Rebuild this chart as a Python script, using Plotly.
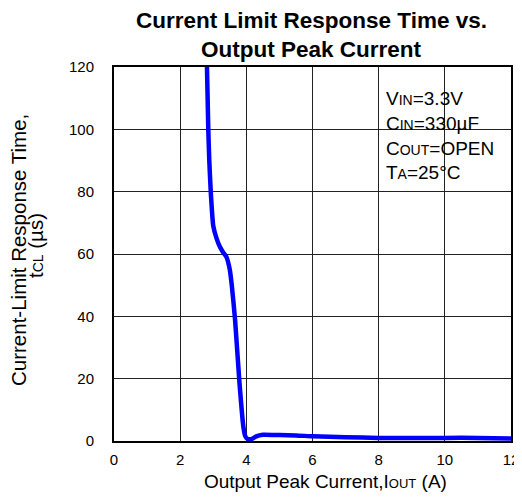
import plotly.graph_objects as go

# Data
iout = [2.81, 2.85, 2.88, 2.93, 3.0, 3.1, 3.2, 3.3, 3.4, 3.5, 3.56, 3.66, 3.79, 3.91, 3.97, 4.03, 4.15, 4.3, 4.5, 5.0, 5.5, 6.0, 7.0, 8.0, 9.0, 10.0, 11.0, 12.0]
tcl = [120, 100, 90, 79, 69, 65, 62.3, 60.5, 59, 55, 50, 38.8, 19, 4.6, 1.5, 0.7, 0.6, 1.5, 2.0, 1.9, 1.8, 1.5, 1.2, 1.0, 1.0, 1.0, 1.0, 0.8]

x_ticks = [0, 2, 4, 6, 8, 10, 12]
y_ticks = [0, 20, 40, 60, 80, 100, 120]

title_lines = ["Current Limit Response Time vs.", "Output Peak Current"]
x_title = 'Output Peak Current,I<span style="font-size:13px">OUT</span> (A)'
y_title_lines = ["Current-Limit Response Time,", 't<span style="font-size:14px">CL</span> (µs)']

cond_lines = [
    'V<span style="font-size:14px">IN</span>=3.3V',
    'C<span style="font-size:14px">IN</span>=330µF',
    'C<span style="font-size:14px">OUT</span>=OPEN',
    'T<span style="font-size:14px">A</span>=25°C',
]
cond_y = [110.0, 102.0, 94.0, 86.3]

font_family = "Liberation Sans, Arial, sans-serif"

fig = go.Figure()
fig.add_trace(go.Scatter(
    x=iout, y=tcl, mode="lines",
    line=dict(color="#0000FF", width=4.5, shape="spline", smoothing=0.5),
    showlegend=False,
))

# white box behind the conditions text
fig.add_shape(type="rect", xref="x", yref="y", x0=7.76, x1=11.6, y0=80.6, y1=116.8,
              fillcolor="white", line=dict(width=0), layer="below")

for t, yv in zip(cond_lines, cond_y):
    fig.add_annotation(
        x=8.15, y=yv, xref="x", yref="y", text=t, showarrow=False,
        xanchor="left", yanchor="middle",
        font=dict(family=font_family, size=19, color="black"),
    )

# chart title (two lines)
for t, yv in zip(title_lines, [1.1243, 1.0455]):
    fig.add_annotation(
        x=0.4975, y=yv, xref="paper", yref="paper", text="<b>" + t + "</b>",
        showarrow=False, xanchor="center", yanchor="middle",
        font=dict(family=font_family, size=22.5, color="black"),
    )

# x axis title
fig.add_annotation(
    x=0.534, y=-0.107, xref="paper", yref="paper", text=x_title,
    showarrow=False, xanchor="center", yanchor="middle",
    font=dict(family=font_family, size=19, color="black"),
)

# y axis title (two lines, rotated)
for t, xv, yv in zip(y_title_lines, [-0.2393, -0.199], [0.5107, 0.524]):
    fig.add_annotation(
        x=xv, y=yv, xref="paper", yref="paper", text=t, textangle=-90,
        showarrow=False, xanchor="center", yanchor="middle",
        font=dict(family=font_family, size=20.5, color="black"),
    )

fig.update_layout(
    width=514, height=489,
    margin=dict(l=106, r=11, t=59, b=56),
    paper_bgcolor="white", plot_bgcolor="white",
    font=dict(family=font_family, color="black"),
    xaxis=dict(
        range=[0, 12], tickvals=x_ticks, ticktext=[str(v) for v in x_ticks],
        showgrid=True, gridcolor="#222222", gridwidth=1,
        showline=True, linecolor="black", linewidth=2, mirror=True,
        ticks="", zeroline=False, automargin=False, ticklabelstandoff=4,
        tickfont=dict(size=15, family=font_family, color="black"),
    ),
    yaxis=dict(
        range=[0, 120], tickvals=y_ticks, ticktext=[str(v) for v in y_ticks],
        showgrid=True, gridcolor="#222222", gridwidth=1,
        showline=True, linecolor="black", linewidth=2, mirror=True,
        ticks="", zeroline=False, ticklabelstandoff=15, automargin=False,
        tickfont=dict(size=15, family=font_family, color="black"),
    ),
)

fig.write_html("out.html")
